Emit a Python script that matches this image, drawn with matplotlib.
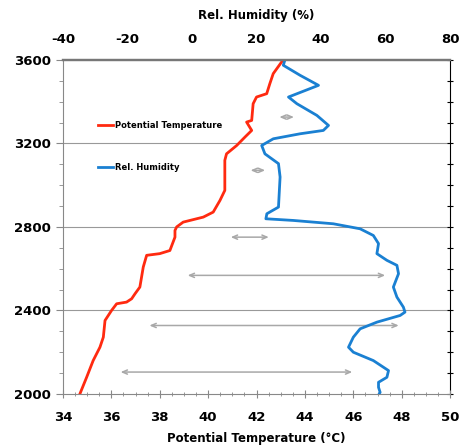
import matplotlib.pyplot as plt
from matplotlib.ticker import MultipleLocator

plt.rcParams['axes.unicode_minus'] = False

# Potential temperature profile (altitude m, deg C)
temp_alt = [3600, 3534, 3486, 3438, 3422, 3390, 3310, 3302, 3262, 3230, 3190, 3150,
            3119, 2975, 2927, 2871, 2847, 2823, 2800, 2783, 2751, 2687, 2672, 2664,
            2608, 2512, 2480, 2456, 2440, 2432, 2400, 2352, 2272, 2224, 2160, 2080, 2000]
temp = [43.10, 42.69, 42.55, 42.42, 42.00, 41.86, 41.80, 41.59, 41.80, 41.52, 41.18, 40.76,
        40.69, 40.69, 40.49, 40.21, 39.80, 38.97, 38.70, 38.63, 38.63, 38.42, 38.00, 37.46,
        37.32, 37.18, 36.98, 36.84, 36.63, 36.22, 36.01, 35.74, 35.67, 35.53, 35.25, 34.98, 34.70]

# Relative humidity profile (altitude m, %)
rh_alt = [3600, 3574, 3526, 3478, 3422, 3390, 3334, 3286, 3262, 3246, 3222, 3190, 3150,
          3103, 3039, 2895, 2863, 2839, 2831, 2815, 2791, 2759, 2720, 2672, 2640, 2616,
          2576, 2512, 2464, 2416, 2392, 2376, 2344, 2312, 2272, 2224, 2200, 2160, 2112,
          2080, 2056, 2032, 2008, 2000]
rh = [28.8, 28.3, 33.5, 39.2, 29.9, 32.5, 38.7, 42.3, 40.7, 33.5, 25.2, 21.6, 22.6,
      26.8, 27.3, 26.8, 23.2, 22.9, 31.4, 43.8, 52.1, 56.2, 57.8, 57.3, 60.4, 63.5,
      64.0, 62.4, 63.5, 65.5, 66.0, 64.5, 57.3, 52.1, 50.0, 48.5, 50.0, 56.2, 60.9,
      60.4, 57.8, 57.8, 58.3, 58.0]

# gray double arrows (altitude, start temp, end temp)
arrow_alt = [3326, 3071, 2751, 2568, 2328, 2105]
arrow_start = [42.83, 41.64, 40.82, 39.04, 37.46, 36.27]
arrow_end = [43.66, 42.47, 42.62, 47.43, 47.99, 46.07]

red = '#ff2a10'
blue = '#1a80d2'
gray = '#888888'

fig = plt.figure(figsize=(4.66, 4.47), dpi=100)
ax = fig.add_axes([0.135, 0.1186, 0.831, 0.7475])

ax.set_xlim(34, 50)
ax.set_ylim(2000, 3600)

for y in [2400, 2800, 3200]:
    ax.axhline(y, color='#999999', lw=0.8, zorder=0)

for z, a, b in zip(arrow_alt, arrow_start, arrow_end):
    ax.annotate('', xy=(b, z), xytext=(a, z),
                arrowprops=dict(arrowstyle='<->,head_length=0.35,head_width=0.15',
                                color='#a8a8a8', lw=1.1))

line_t, = ax.plot(temp, temp_alt, color=red, lw=2.0, label='Potential Temperature')

ax2 = ax.twiny()
ax2.set_xlim(-40, 80)
line_rh, = ax2.plot(rh, rh_alt, color=blue, lw=2.0, label='Rel. Humidity')

# axes styling
for s in ['left', 'bottom']:
    ax.spines[s].set_color(gray)
ax.spines['top'].set_color('#777777')
ax.spines['top'].set_linewidth(1.6)
ax.spines['right'].set_visible(False)
ax2.spines['right'].set_visible(False)
ax2.spines['left'].set_visible(False)
ax2.spines['bottom'].set_visible(False)
ax2.spines['top'].set_color('#777777')
ax2.spines['top'].set_linewidth(1.6)

ax.xaxis.set_major_locator(MultipleLocator(2))
ax.xaxis.set_minor_locator(MultipleLocator(0.5))
ax.yaxis.set_major_locator(MultipleLocator(400))
ax.yaxis.set_minor_locator(MultipleLocator(100))
ax.tick_params(axis='x', which='major', direction='inout', length=6, color=gray, pad=9)
ax.tick_params(axis='x', which='minor', direction='inout', length=3, color=gray)
ax.tick_params(axis='y', which='major', direction='out', length=5, color=gray)
ax.tick_params(axis='y', which='minor', direction='out', length=3, color=gray)
ax2.xaxis.set_major_locator(MultipleLocator(20))
ax2.tick_params(axis='x', length=0, pad=10)

right = ax.secondary_yaxis('right')
right.yaxis.set_major_locator(MultipleLocator(100))
right.tick_params(direction='inout', length=5, labelright=False, color='black')
right.spines['right'].set_color('black')

for lab in ax.get_xticklabels() + ax.get_yticklabels() + ax2.get_xticklabels():
    lab.set_fontweight('bold')
    lab.set_fontsize(9.5)

ax.set_xlabel('Potential Temperature (°C)', fontweight='bold', fontsize=8.5, labelpad=6)
ax2.set_xlabel('Rel. Humidity (%)', fontweight='bold', fontsize=8.5, labelpad=10)

leg = ax.legend(handles=[line_t, line_rh], loc='upper left', bbox_to_anchor=(0.07, 0.84),
                frameon=False, prop={'weight': 'bold', 'size': 6},
                handlelength=1.9, handletextpad=0.2, labelspacing=4.0)

plt.savefig('out.png', dpi=100)
